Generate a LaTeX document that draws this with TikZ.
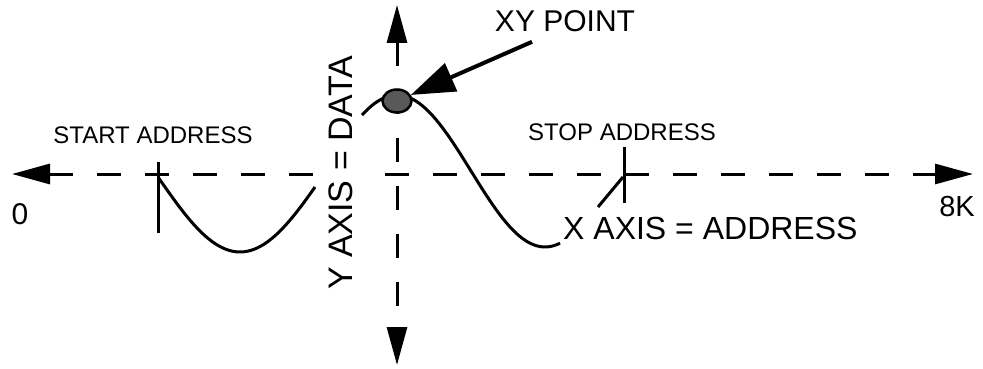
\documentclass[tikz,border=0pt]{standalone}
\usepackage{fontspec}
\setmainfont{Liberation Sans}
\usetikzlibrary{arrows.meta}
\usetikzlibrary{shapes.geometric}

\tikzset{
	axisline/.style={black, line width=3pt, dash pattern=on 24pt off 24pt, >={Triangle[length=38pt,width=20pt]}, <->},
	curveline/.style={black, line width=3pt},
	tickline/.style={black, line width=3pt},
	pointer/.style={black, line width=4pt, -{Triangle[length=44pt,width=30pt]}},
	lbl/.style={inner sep=0pt, font=\fontsize{#1}{#1}\selectfont},
	xydot/.style={ellipse, draw=black, line width=2.5pt, fill=black!65, minimum width=29pt, minimum height=23pt, inner sep=0pt}
}

\begin{document}
\begin{tikzpicture}[x=1pt, y=-1pt]
			\useasboundingbox (0,0) rectangle (983,369);

			\coordinate (xleft) at (12,174);
			\coordinate (xright) at (973,174);
			\coordinate (ytop) at (397,5);
			\coordinate (ybot) at (397,365);
			\coordinate (stopx) at (623,177);
			\coordinate (leadfoot) at (598,207);

			\draw[axisline](xleft) -- (xright);
			\draw[axisline](ytop) -- (ybot);

			\node[lbl=34, rotate=90, fill=white, inner ysep=10pt] (yaxislabel) at (341,173) {Y AXIS = DATA};

			\draw[tickline](158,162) -- (158,233);
			\draw[tickline](624,147) -- (624,203);

			\draw[curveline] plot[domain=158:315, samples=50] (\x,{177+75*sin((\x-158)/164*180)});
			\draw[curveline] plot[domain=362:560, samples=60] (\x,{171-76*cos((\x-397)/148*180)});

			\node[xydot] (xy) at (397,101) {};

			\node[lbl=30] (xylabel) at (565,21) {XY POINT};
			\node[lbl=24] (startlabel) at (153,135) {START ADDRESS};
			\node[lbl=24] (stoplabel) at (622,132) {STOP ADDRESS};
			\node[lbl=32, anchor=west] (xaxislabel) at (563,228) {X AXIS = ADDRESS};
			\node[lbl=30] (zero) at (20,214) {0};
			\node[lbl=29] (eightk) at (957,207) {8K};

			\draw[pointer]([xshift=-33pt, yshift=-10pt]xylabel.south) -- (xy);
			\draw[tickline](leadfoot) -- (stopx);
		\end{tikzpicture}
\end{document}
